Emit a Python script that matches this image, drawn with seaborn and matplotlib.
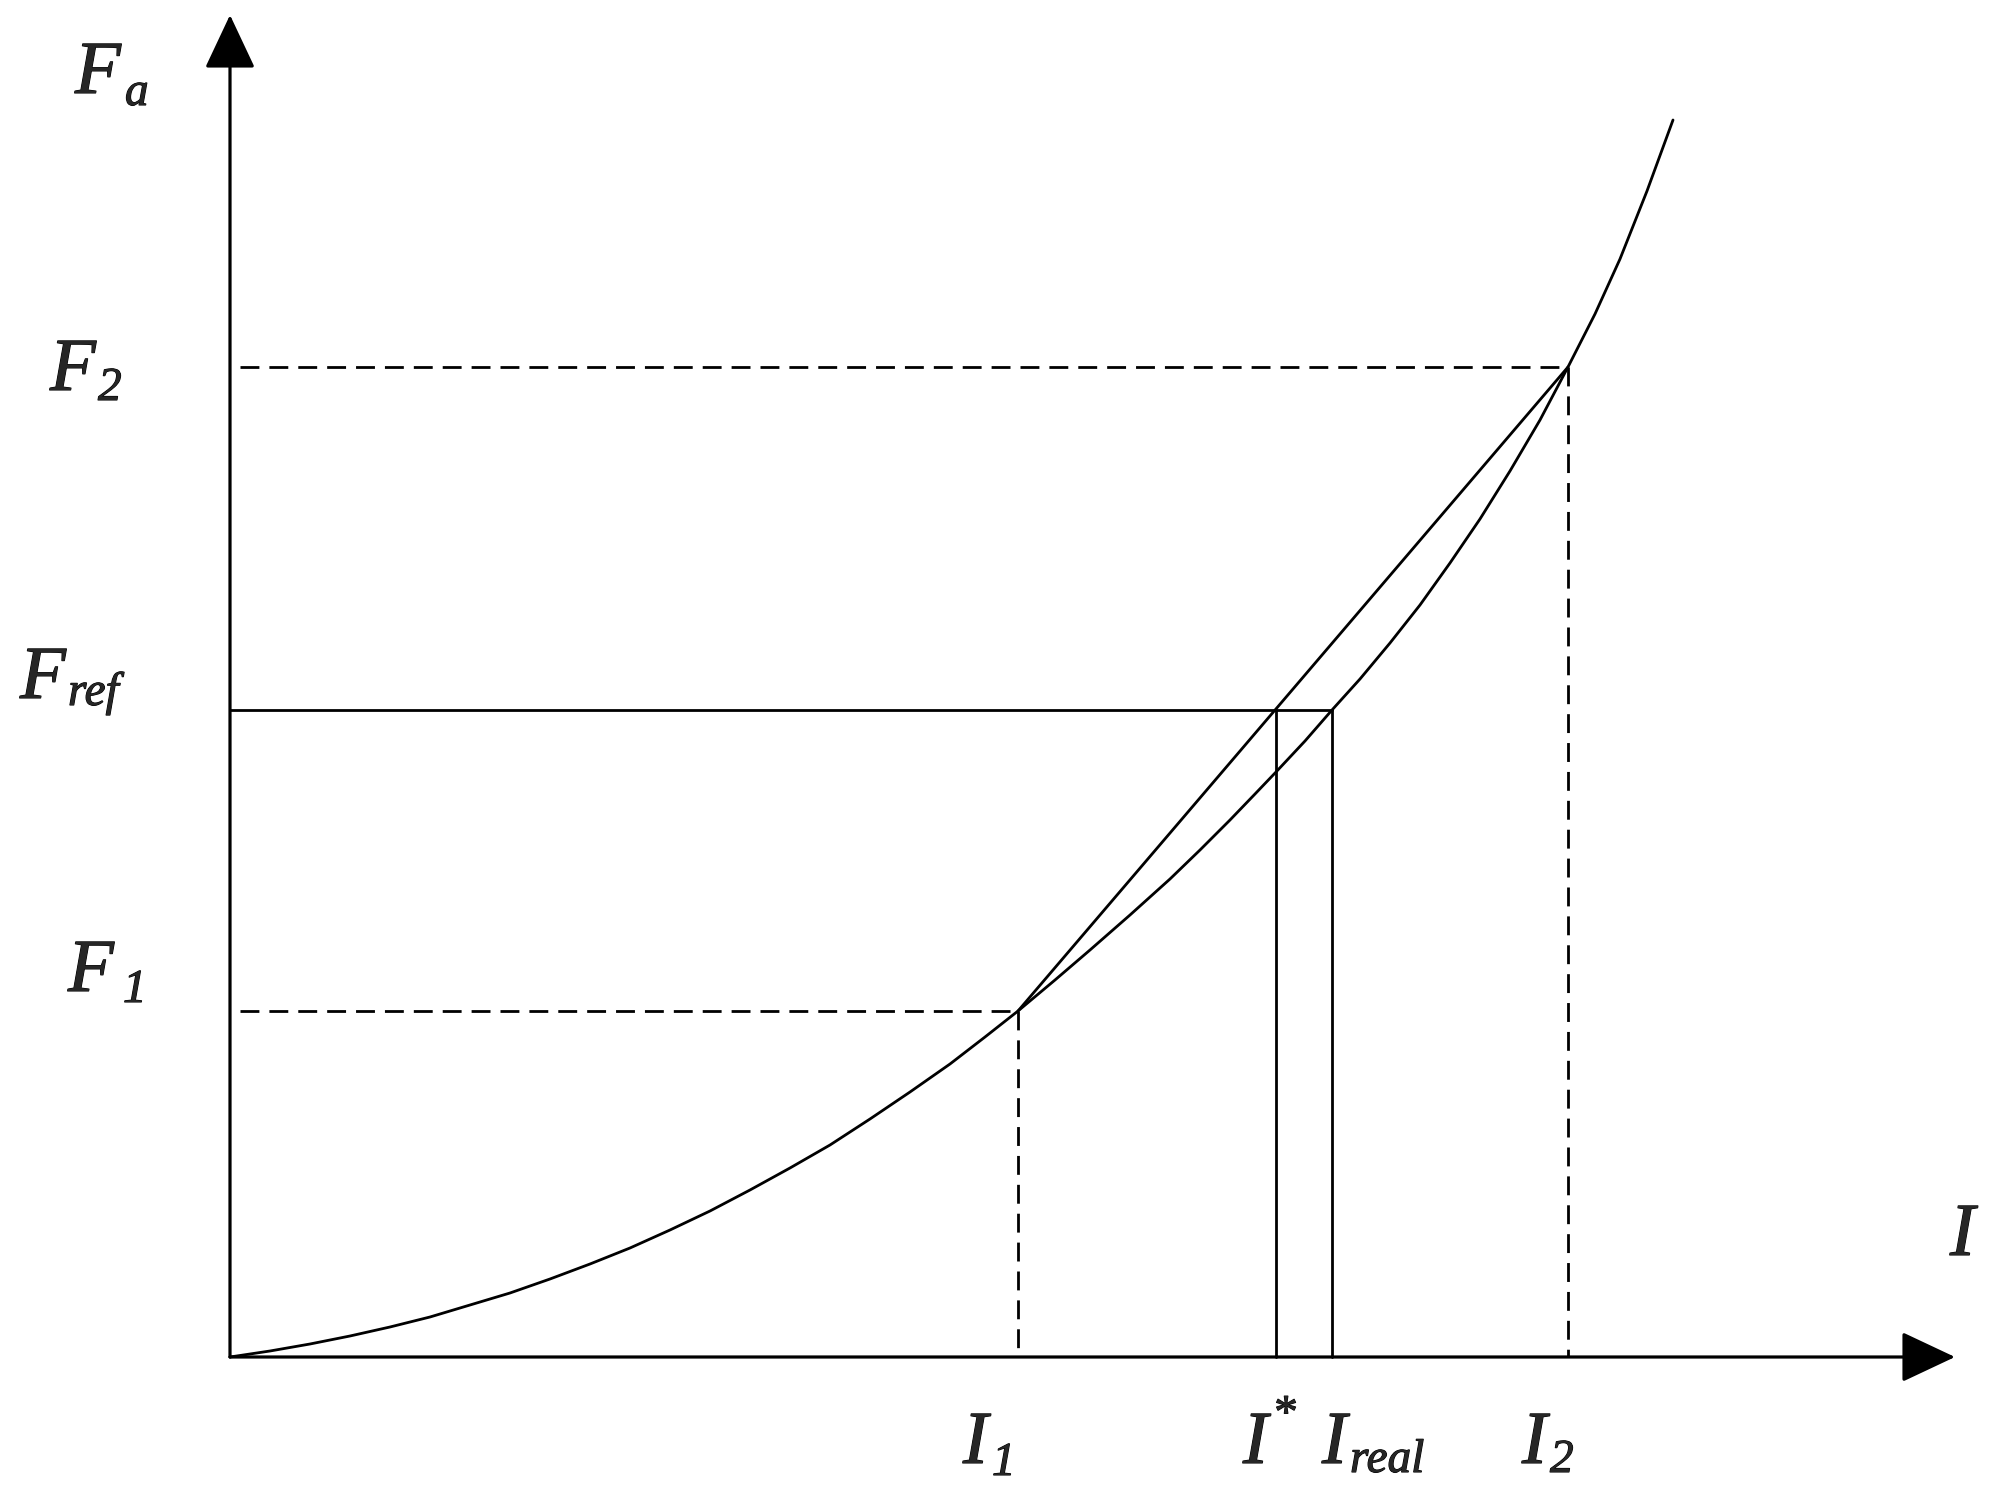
import matplotlib
matplotlib.use('Agg')
import matplotlib.pyplot as plt
import matplotlib.patheffects as pe
import seaborn as sns

# curve F_a(I) (pixel-like units, origin at the axes corner)
curve_x = [0, 40, 80, 120, 160, 200, 240, 280, 320, 360, 400, 440, 480, 520,
           560, 600, 640, 680, 720, 755, 788, 825, 860, 900, 940, 970, 1000,
           1025, 1046, 1075, 1102, 1130, 1160, 1190, 1220, 1250, 1280, 1310,
           1338, 1365, 1390, 1417, 1443]
curve_y = [0, 6, 13, 21, 30, 40, 52, 64, 78, 93, 109, 127, 146, 167,
           189, 212, 238, 265, 293, 320, 346, 377, 407, 442, 478, 507, 537,
           563, 585, 616, 647, 678, 714, 752, 794, 838, 886, 937,
           990, 1043, 1098, 1166, 1237]

# marked points
I1, I_star, I_real, I2 = 788, 1046, 1102, 1338
F1, F_ref, F2 = 346, 647, 990

sns.set_style('white')
plt.rcParams['font.family'] = ['Liberation Serif', 'DejaVu Serif']
plt.rcParams['font.style'] = 'italic'

fig = plt.figure(figsize=(20.01, 14.89), dpi=100)
ax = fig.add_axes([0, 0, 1, 1])
ax.set_xlim(-230, 1771)
ax.set_ylim(-132, 1357)
ax.axis('off')

lw = 2.0
dash = (0, (6.8, 3.6))
dash_gap_first = (6.8, (6.8, 3.6))

# axes with arrow heads
arrow = dict(arrowstyle='-|>,head_length=0.34,head_width=0.16', mutation_scale=100,
             lw=2.3, color='black', shrinkA=0, shrinkB=0)
ax.annotate('', xy=(1725, 0), xytext=(0, 0), arrowprops=arrow)
ax.annotate('', xy=(0, 1342), xytext=(0, 0), arrowprops=arrow)

# curve
sns.lineplot(x=curve_x, y=curve_y, sort=False, estimator=None, color='black', lw=lw, ax=ax)

# chord between (I1,F1) and (I2,F2)
sns.lineplot(x=[I1, I2], y=[F1, F2], sort=False, estimator=None, color='black', lw=lw, ax=ax)

# dashed guides
ax.plot([0, I1], [F1, F1], color='black', lw=lw, ls=dash_gap_first, dash_capstyle='butt')
ax.plot([I1, I1], [F1, 0], color='black', lw=lw, ls=dash, dash_capstyle='butt')
ax.plot([0, I2], [F2, F2], color='black', lw=lw, ls=dash_gap_first, dash_capstyle='butt')
ax.plot([I2, I2], [F2, 0], color='black', lw=lw, ls=dash, dash_capstyle='butt')

# F_ref level and the two solutions
ax.plot([0, I_real], [F_ref, F_ref], color='black', lw=lw)
ax.plot([I_star, I_star], [F_ref, 0], color='black', lw=lw)
ax.plot([I_real, I_real], [F_ref, 0], color='black', lw=lw)

# labels
big, small = 54, 34
heavy = [pe.withStroke(linewidth=0.8, foreground='black')]

def label(x, y, main, sub, sx, sy):
    ax.text(x, y, main, fontsize=big, ha='left', va='baseline', path_effects=heavy)
    if sub:
        ax.text(sx, sy, sub, fontsize=small, ha='left', va='baseline', path_effects=heavy)

label(-155, 1264, 'F', 'a', -105, 1252)
label(-180, 967, 'F', '2', -132, 957)
label(-210, 659, 'F', 'ref', -162, 652)
label(-162, 366, 'F', '1', -107, 355)
label(733, -106, 'I', '1', 762, -118)
label(1013, -106, 'I', '*', 1042, -70)
label(1092, -106, 'I', 'real', 1120, -115)
label(1292, -106, 'I', '2', 1320, -115)
label(1720, 102, 'I', None, 0, 0)

fig.savefig('out.png', dpi=100)
